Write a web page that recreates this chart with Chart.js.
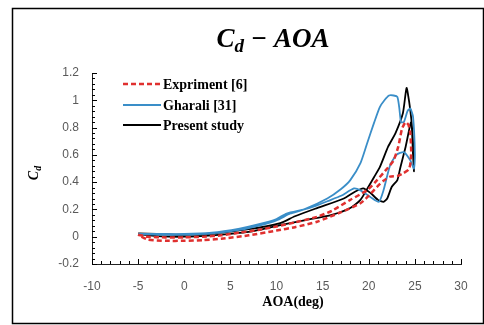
<!DOCTYPE html>
<html>
<head>
<meta charset="utf-8">
<title>Cd - AOA</title>
<script src="https://cdn.jsdelivr.net/npm/chart.js"></script>
<style>
  html, body { margin: 0; padding: 0; background: white; }
</style>
</head>
<body>
<canvas id="chart" width="484" height="325"></canvas>
<script>
// each series is one closed pitching loop (AOA in deg, Cd)
const expAoa = [-5, -4, -2, 0, 2, 4, 6, 8, 10, 12, 14.4, 16, 18, 19.8, 20.9, 22, 22.7, 23.2, 23.6, 24.0, 24.3, 24.5, 24.6, 24.5, 24.3, 23.6, 23.1, 22.3, 21.6, 20.9, 20, 19.1, 17, 14.4, 12, 10, 7, 4, 2, 0, -2, -4, -5];
const expCd = [0.015, 0.0, -0.005, -0.005, 0.0, 0.01, 0.03, 0.05, 0.075, 0.105, 0.146, 0.19, 0.27, 0.34, 0.415, 0.5, 0.56, 0.66, 0.79, 0.84, 0.82, 0.76, 0.62, 0.53, 0.49, 0.46, 0.445, 0.44, 0.41, 0.366, 0.3, 0.245, 0.18, 0.11, 0.07, 0.045, 0.01, -0.015, -0.025, -0.03, -0.03, -0.02, 0.015];

const ghrAoa = [-5, -3, 0, 3, 6, 8, 10, 11.5, 13, 15.5, 17, 18, 19.1, 19.8, 20.6, 21.2, 21.7, 22.2, 22.7, 23.1, 23.3, 23.5, 23.8, 24.2, 24.5, 24.8, 25, 24.9, 24.5, 23.8, 23.0, 22.3, 21.6, 21.1, 20.2, 19.1, 18.4, 17, 15.5, 14.4, 13, 11.1, 10, 8, 6, 3, 0, -3, -5];
const ghrCd = [0.02, 0.015, 0.015, 0.025, 0.05, 0.08, 0.12, 0.17, 0.2, 0.28, 0.35, 0.415, 0.54, 0.68, 0.84, 0.95, 1.0, 1.035, 1.035, 1.025, 0.95, 0.84, 0.84, 0.92, 0.94, 0.88, 0.6, 0.5, 0.56, 0.62, 0.6, 0.52, 0.34, 0.256, 0.29, 0.34, 0.354, 0.3, 0.26, 0.23, 0.2, 0.17, 0.13, 0.09, 0.06, 0.03, 0.02, 0.02, 0.02];

const preAoa = [-5, -3, 0, 3, 7, 10.8, 13, 16, 18, 19.1, 20, 20.6, 21.2, 22.1, 22.9, 23.7, 24.1, 24.4, 24.6, 24.8, 24.9, 24.8, 24.6, 24.0, 23.4, 23.1, 22.5, 22.0, 21.6, 21.0, 20.2, 19.4, 18.5, 17.3, 14.4, 12, 10.4, 7, 3, 0, -3, -5];
const preCd = [0.02, 0.005, 0.0, 0.01, 0.035, 0.09, 0.12, 0.16, 0.21, 0.27, 0.37, 0.44, 0.51, 0.66, 0.76, 0.905, 1.09, 0.98, 0.87, 0.7, 0.48, 0.6, 0.84, 0.66, 0.5, 0.415, 0.366, 0.28, 0.256, 0.27, 0.32, 0.355, 0.33, 0.28, 0.21, 0.15, 0.1, 0.055, 0.025, 0.015, 0.02, 0.025];

const seriesNames = ['Expriment [6]', 'Gharali [31]', 'Present study'];
const xMin = -10, xMax = 30, xStep = 5, xMinorStep = 1;
const yMin = -0.2, yMax = 1.2, yStep = 0.2, yMinorStep = 0.04;

function pts(xs, ys) {
  return xs.map((x, i) => ({x: x, y: ys[i]}));
}

// white page with the thin black frame round the figure
const frame = {
  id: 'frame',
  beforeDraw(chart) {
    const ctx = chart.ctx;
    ctx.save();
    ctx.fillStyle = '#fff';
    ctx.fillRect(0, 0, chart.width, chart.height);
    ctx.strokeStyle = '#000';
    ctx.lineWidth = 1.5;
    ctx.strokeRect(12.5, 8.5, 471, 315);
    ctx.restore();
  }
};

// excel style tick marks that point into the plot
const innerTicks = {
  id: 'innerTicks',
  afterDraw(chart) {
    const {ctx, chartArea: a, scales: {x, y}} = chart;
    ctx.save();
    ctx.strokeStyle = '#000';
    ctx.lineWidth = 1;
    ctx.beginPath();
    const nx = Math.round((xMax - xMin) / xMinorStep);
    for (let i = 0; i <= nx; i++) {
      const px = Math.round(x.getPixelForValue(xMin + i * xMinorStep)) + 0.5;
      const len = (i * xMinorStep) % xStep === 0 ? 5 : 3;
      ctx.moveTo(px, a.bottom);
      ctx.lineTo(px, a.bottom - len);
    }
    const ny = Math.round((yMax - yMin) / yMinorStep);
    for (let i = 0; i <= ny; i++) {
      const py = Math.round(y.getPixelForValue(yMin + i * yMinorStep)) + 0.5;
      const len = i % 5 === 0 ? 5 : 3;
      ctx.moveTo(a.left, py);
      ctx.lineTo(a.left + len, py);
    }
    ctx.stroke();
    ctx.restore();
  }
};

// title and axis titles need a subscript d, so they are drawn here
const titles = {
  id: 'titles',
  afterDraw(chart) {
    const {ctx, chartArea: a} = chart;
    ctx.save();
    ctx.fillStyle = '#000';
    ctx.textBaseline = 'alphabetic';

    // main title
    const big = 'bold italic 27px "Liberation Serif", serif';
    const sub = 'bold italic 19px "Liberation Serif", serif';
    ctx.font = big;
    const wC = ctx.measureText('C').width;
    const rest = ' \u2212 AOA';
    const wR = ctx.measureText(rest).width;
    ctx.font = sub;
    const wD = ctx.measureText('d').width;
    let tx = 273 - (wC + wD + wR) / 2;
    ctx.font = big;
    ctx.fillText('C', tx, 47);
    ctx.font = sub;
    ctx.fillText('d', tx + wC, 52);
    ctx.font = big;
    ctx.fillText(rest, tx + wC + wD, 47);

    // y title
    ctx.save();
    ctx.translate(38, 173);
    ctx.rotate(-Math.PI / 2);
    ctx.font = 'bold italic 14px "Liberation Serif", serif';
    const w1 = ctx.measureText('C').width;
    ctx.font = 'bold italic 10px "Liberation Serif", serif';
    const w2 = ctx.measureText('d').width;
    const sx = -(w1 + w2) / 2;
    ctx.font = 'bold italic 14px "Liberation Serif", serif';
    ctx.fillText('C', sx, 0);
    ctx.font = 'bold italic 10px "Liberation Serif", serif';
    ctx.fillText('d', sx + w1, 3);
    ctx.restore();

    // x title
    ctx.font = 'bold 14px "Liberation Serif", serif';
    ctx.textAlign = 'center';
    ctx.fillText('AOA(deg)', 293, 306);
    ctx.restore();
  }
};

// legend sits inside the plot, top left
const insideLegend = {
  id: 'insideLegend',
  afterDraw(chart) {
    const ctx = chart.ctx;
    const rows = [84, 105, 125];
    ctx.save();
    ctx.font = 'bold 14px "Liberation Serif", serif';
    ctx.textBaseline = 'middle';
    chart.data.datasets.forEach((ds, i) => {
      const y = rows[i];
      ctx.strokeStyle = ds.borderColor;
      ctx.lineWidth = ds.borderWidth;
      ctx.setLineDash(ds.borderDash || []);
      ctx.beginPath();
      ctx.moveTo(123, y);
      ctx.lineTo(161, y);
      ctx.stroke();
      ctx.setLineDash([]);
      ctx.fillStyle = '#000';
      ctx.fillText(ds.label, 163, y + 1);
    });
    ctx.restore();
  }
};

const ctx = document.getElementById('chart').getContext('2d');
new Chart(ctx, {
  type: 'scatter',
  data: {
    datasets: [
      {
        label: seriesNames[0],
        data: pts(expAoa, expCd),
        showLine: true,
        borderColor: '#e0302f',
        borderWidth: 2.5,
        borderDash: [5, 3],
        pointRadius: 0,
        tension: 0.2,
        fill: false
      },
      {
        label: seriesNames[1],
        data: pts(ghrAoa, ghrCd),
        showLine: true,
        borderColor: '#3a8ec8',
        borderWidth: 1.8,
        pointRadius: 0,
        tension: 0.2,
        fill: false
      },
      {
        label: seriesNames[2],
        data: pts(preAoa, preCd),
        showLine: true,
        borderColor: '#000000',
        borderWidth: 1.8,
        pointRadius: 0,
        tension: 0.2,
        fill: false
      }
    ]
  },
  options: {
    responsive: false,
    animation: false,
    layout: { padding: { left: 32, right: 23, top: 73, bottom: 21 } },
    plugins: {
      legend: { display: false },
      title: { display: false },
      tooltip: { enabled: false }
    },
    scales: {
      x: {
        type: 'linear',
        min: xMin,
        max: xMax,
        ticks: {
          stepSize: xStep,
          padding: 15,
          color: '#595959',
          font: { family: '"Liberation Sans", sans-serif', size: 12 },
          callback: v => String(v)
        },
        grid: { display: false, drawTicks: false },
        border: { display: true, color: '#222', width: 1 },
        afterFit: s => { s.height = 40; }
      },
      y: {
        min: yMin,
        max: yMax,
        ticks: {
          stepSize: yStep,
          padding: 13,
          color: '#595959',
          font: { family: '"Liberation Sans", sans-serif', size: 12 },
          callback: v => String(Math.round(v * 10) / 10)
        },
        grid: { display: false, drawTicks: false },
        border: { display: true, color: '#222', width: 1 },
        afterFit: s => { s.width = 60; }
      }
    }
  },
  plugins: [frame, innerTicks, titles, insideLegend]
});
</script>
</body>
</html>
